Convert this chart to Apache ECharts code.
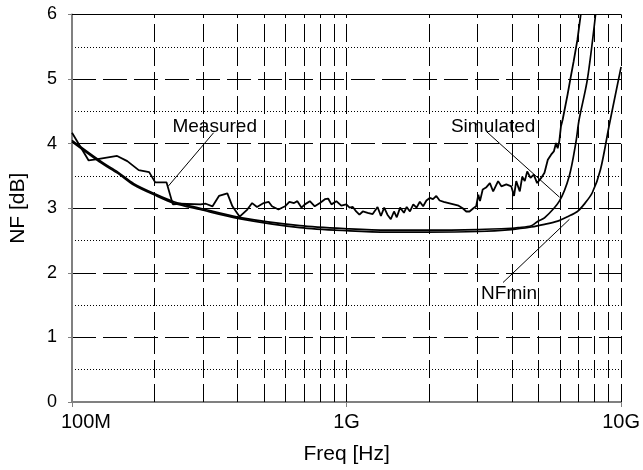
<!DOCTYPE html>
<html><head><meta charset="utf-8">
<script src="https://cdn.jsdelivr.net/npm/echarts@6/dist/echarts.min.js"></script>
<style>html,body{margin:0;padding:0;background:#fff}#c{width:643px;height:470px}</style>
</head><body><div id="c"></div>
<script>
// Frequencies in MHz, noise figure in dB
const measFreq = [100,115,124,146,159,175,191,201,221,233,248,294,307,325,343,368,384,408,435,453,472,499,520,535,565,597,619,644,662,685,705,735,766,800,834,857,881,918,957,998,1026,1054,1084,1114,1146,1194,1245,1297,1334,1371,1409,1449,1489,1524,1567,1618,1656,1702,1750,1799,1849,1901,1954,2009,2065,2123,2183,2259,2355,2455,2559,2649,2729,2805,2897,2965,3020,3062,3133,3221,3327,3420,3565,3664,3819,3981,4074,4150,4276,4365,4457,4550,4677,4808,4943,5117,5260,5408,5559,5689,5794,5875,5957,6039,6124,6383,6546,6714,6934,7129];
const measNF   = [4.17,3.74,3.76,3.81,3.73,3.59,3.56,3.40,3.40,3.06,3.07,3.06,3.07,3.03,3.19,3.23,3.03,2.87,2.98,3.08,3.02,3.08,3.10,3.03,2.98,3.03,3.10,3.08,3.11,3.01,3.06,3.11,3.03,3.08,3.14,3.15,3.06,3.11,3.04,3.06,3.01,3.02,2.95,2.90,2.95,2.93,2.91,3.02,2.88,3.01,2.90,2.83,2.95,2.86,3.01,2.93,3.02,2.95,3.06,3.01,3.10,3.03,3.12,3.16,3.14,3.19,3.12,3.10,3.08,3.06,3.04,3.00,2.95,2.95,3.00,3.03,3.21,3.11,3.29,3.32,3.39,3.26,3.42,3.34,3.37,3.34,3.19,3.42,3.26,3.49,3.42,3.57,3.47,3.52,3.39,3.47,3.55,3.75,3.83,3.88,4.01,3.93,4.04,4.27,4.37,4.76,5.02,5.27,5.61,6.00];

const simFreq = [100,128,147,168,201,235,293,406,676,1026,1413,1950,3020,3981,4217,4710,4977,5260,5957,6476,6839,7031,7534,8072];
const simNF   = [4.05,3.72,3.56,3.38,3.22,3.10,3.00,2.86,2.73,2.68,2.66,2.66,2.67,2.69,2.70,2.73,2.80,2.85,3.11,3.50,4.01,4.37,4.99,6.00];

const nfminFreq = [100,128,147,168,201,235,293,406,676,1026,1413,1950,3020,3981,4710,5260,5875,6383,6934,7328,7852,8414,9036,10000];
const nfminNF   = [4.03,3.70,3.54,3.36,3.20,3.08,2.98,2.84,2.70,2.65,2.63,2.63,2.64,2.67,2.71,2.75,2.80,2.87,2.95,3.06,3.24,3.60,4.27,5.19];

const gridFreqMHz = [200,300,400,500,600,700,800,900,1000,2000,3000,4000,5000,6000,7000,8000,9000,10000];
const xTickLabels = {8:'100M', 9:'1G', 10:'10G'};

// annotations
const annNames = ['Measured','Simulated','NFmin'];
const annLabelFreq = [331,3420,3908];
const annLabelNF = [4.26,4.26,1.67];
const annLeadFromFreq = [328,3228,3715];
const annLeadFromNF = [4.17,4.19,1.85];
const annLeadToFreq = [224,5970,6486];
const annLeadToNF = [3.34,3.17,2.83];

const FONT = 'Liberation Sans, Arial, sans-serif';
const toPairs = (f, v) => f.map((x, i) => [x * 1e6, v[i]]);

const chart = echarts.init(document.getElementById('c'), null, {renderer: 'canvas'});
chart.setOption({
  animation: false,
  backgroundColor: '#fff',
  grid: {left: 70, right: 19, top: 14.5, bottom: 67},
  xAxis: {
    type: 'log', logBase: 10, min: 1e8, max: 1e10,
    name: 'Freq [Hz]', nameLocation: 'middle', nameGap: 42,
    nameTextStyle: {fontFamily: FONT, fontSize: 21, color: '#000'},
    axisLine: {show: true, lineStyle: {color: '#808080', width: 2}},
    axisTick: {show: true, length: 5, lineStyle: {color: '#808080', width: 1}},
    splitLine: {show: false},
    axisLabel: {
      fontFamily: FONT, fontSize: 20, color: '#000', margin: 10,
      formatter: function (v) {
        const e = Math.round(Math.log10(v));
        const t = xTickLabels[e] || '';
        return e === 8 ? '{a|' + t + '}' : t;
      },
      rich: {a: {fontFamily: FONT, fontSize: 20, color: '#000', padding: [0, 0, 0, 28]}}
    }
  },
  yAxis: {
    type: 'value', min: 0, max: 6, interval: 1,
    name: 'NF [dB]', nameLocation: 'middle', nameGap: 43,
    nameTextStyle: {fontFamily: FONT, fontSize: 21, color: '#000'},
    axisLine: {show: true, lineStyle: {color: '#808080', width: 2}},
    axisTick: {show: true, length: 4, lineStyle: {color: '#808080'}},
    axisLabel: {fontFamily: FONT, fontSize: 18, color: '#000', margin: 15},
    splitLine: {show: true, lineStyle: {color: '#000', width: 1, type: [24, 7]}},
    minorTick: {show: false, splitNumber: 2},
    minorSplitLine: {show: true, lineStyle: {color: '#000', width: 1, type: [1, 2]}}
  },
  series: [
    {
      type: 'line', data: [], z: 1, silent: true,
      markLine: {
        silent: true, symbol: ['none', 'none'], label: {show: false},
        lineStyle: {color: '#000', width: 1, type: [18, 6]},
        data: gridFreqMHz.map(f => ({xAxis: f * 1e6}))
          .concat([{yAxis: 6, lineStyle: {type: 'solid', color: '#000', width: 1}}])
      }
    },
    {
      name: 'Measured', type: 'line', z: 3, showSymbol: false, symbol: 'none',
      data: toPairs(measFreq, measNF),
      lineStyle: {color: '#000', width: 1.8}
    },
    {
      name: 'NFmin', type: 'line', z: 3, showSymbol: false, symbol: 'none', smooth: 0.3,
      data: toPairs(nfminFreq, nfminNF),
      lineStyle: {color: '#000', width: 1.7}
    },
    {
      name: 'Simulated', type: 'line', z: 3, showSymbol: false, symbol: 'none', smooth: 0.3,
      data: toPairs(simFreq, simNF),
      lineStyle: {color: '#000', width: 1.7}
    },
    {
      type: 'line', data: [], z: 4, silent: true,
      markLine: {
        silent: true, symbol: ['none', 'none'], label: {show: false},
        lineStyle: {color: '#000', width: 1, type: 'solid'},
        data: annNames.map((n, i) => [
          {coord: [annLeadFromFreq[i] * 1e6, annLeadFromNF[i]]},
          {coord: [annLeadToFreq[i] * 1e6, annLeadToNF[i]]}
        ])
      },
      markPoint: {
        silent: true, symbol: 'circle', symbolSize: 0,
        data: annNames.map((n, i) => ({
          coord: [annLabelFreq[i] * 1e6, annLabelNF[i]],
          label: {show: true, position: 'inside', formatter: n, fontFamily: FONT, fontSize: 19, color: '#000'}
        }))
      }
    }
  ]
});
</script></body></html>
